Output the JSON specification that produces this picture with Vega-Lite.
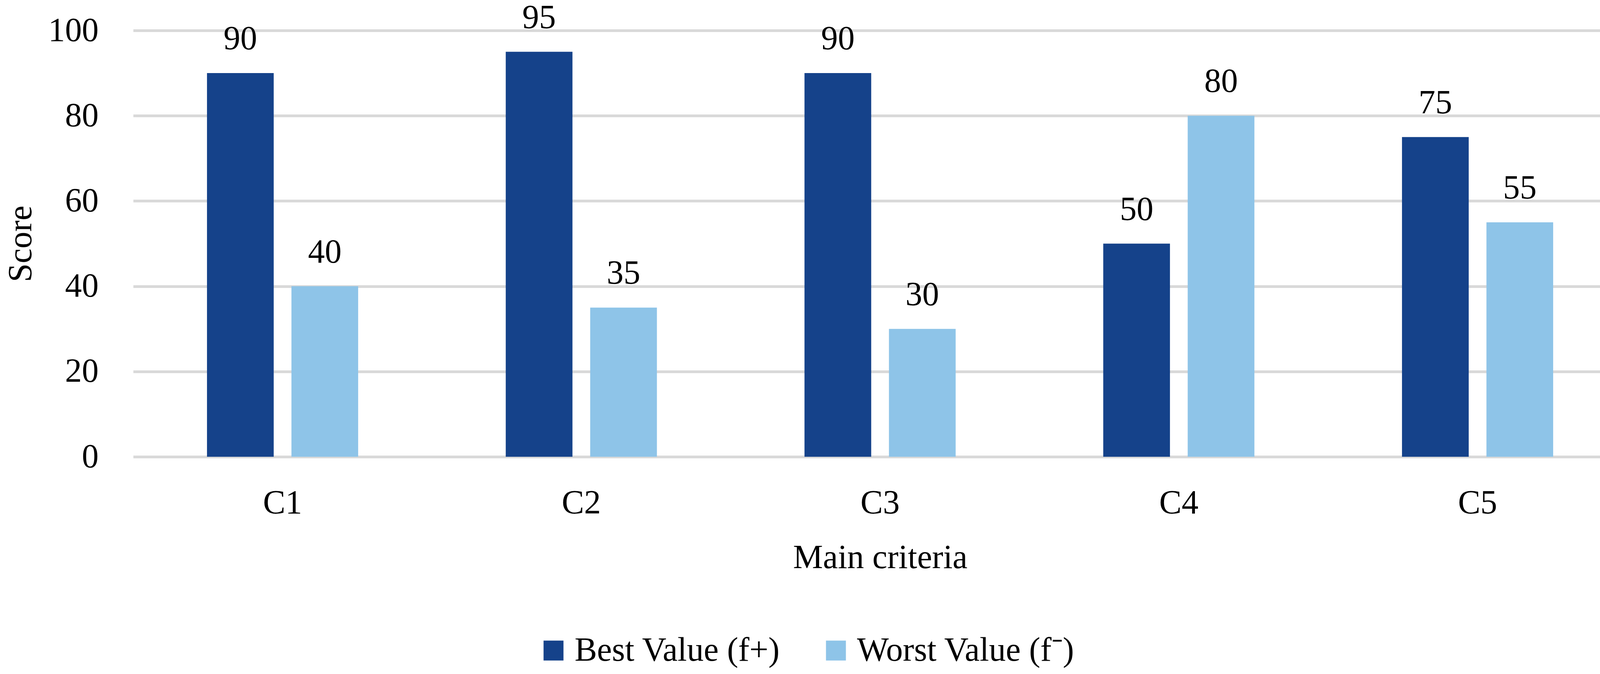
{
  "$schema": "https://vega.github.io/schema/vega-lite/v6.json",
  "width": 3824,
  "height": 1091,
  "autosize": {"type": "none"},
  "padding": {"left": 341, "top": 78, "right": 16, "bottom": 556},
  "background": "white",
  "data": {
    "values": [
      {"criterion": "C1", "series": "Best Value (f+)", "score": 90},
      {"criterion": "C1", "series": "Worst Value (f⁻)", "score": 40},
      {"criterion": "C2", "series": "Best Value (f+)", "score": 95},
      {"criterion": "C2", "series": "Worst Value (f⁻)", "score": 35},
      {"criterion": "C3", "series": "Best Value (f+)", "score": 90},
      {"criterion": "C3", "series": "Worst Value (f⁻)", "score": 30},
      {"criterion": "C4", "series": "Best Value (f+)", "score": 50},
      {"criterion": "C4", "series": "Worst Value (f⁻)", "score": 80},
      {"criterion": "C5", "series": "Best Value (f+)", "score": 75},
      {"criterion": "C5", "series": "Worst Value (f⁻)", "score": 55}
    ]
  },
  "encoding": {
    "x": {
      "field": "criterion",
      "type": "nominal",
      "title": "Main criteria",
      "scale": {"paddingInner": 0.494, "paddingOuter": 0.247},
      "axis": {
        "labelAngle": 0,
        "domain": false,
        "ticks": false,
        "labelPadding": 76,
        "titlePadding": 55
      }
    },
    "xOffset": {
      "field": "series",
      "type": "nominal",
      "scale": {"paddingInner": 0.21, "paddingOuter": 0}
    },
    "y": {
      "field": "score",
      "type": "quantitative",
      "title": "Score",
      "scale": {"domain": [0, 100], "nice": false},
      "axis": {
        "values": [0, 20, 40, 60, 80, 100],
        "domain": false,
        "ticks": false,
        "labelPadding": 89,
        "titlePadding": 44,
        "gridColor": "#D9D9D9",
        "gridWidth": 7
      }
    }
  },
  "layer": [
    {
      "mark": {"type": "bar"},
      "encoding": {
        "color": {
          "field": "series",
          "type": "nominal",
          "title": null,
          "scale": {
            "domain": ["Best Value (f+)", "Worst Value (f⁻)"],
            "range": ["#15428A", "#8EC4E8"]
          },
          "legend": {
            "orient": "none",
            "legendX": 1033,
            "legendY": 1544,
            "direction": "horizontal",
            "padding": 0,
            "symbolType": "square",
            "symbolSize": 2601,
            "symbolStrokeWidth": 0,
            "labelOffset": 11,
            "columnPadding": 99
          }
        }
      }
    },
    {
      "mark": {
        "type": "text",
        "baseline": "alphabetic",
        "dy": -61,
        "font": "Liberation Serif",
        "fontSize": 86,
        "color": "black"
      },
      "encoding": {
        "text": {"field": "score", "type": "quantitative"}
      }
    }
  ],
  "config": {
    "view": {"stroke": null},
    "font": "Liberation Serif",
    "axis": {
      "labelFont": "Liberation Serif",
      "titleFont": "Liberation Serif",
      "labelFontSize": 86,
      "titleFontSize": 86,
      "labelColor": "black",
      "titleColor": "black",
      "titleFontWeight": "normal"
    },
    "legend": {
      "labelFont": "Liberation Serif",
      "labelFontSize": 86,
      "labelColor": "black",
      "labelLimit": 0
    }
  }
}
